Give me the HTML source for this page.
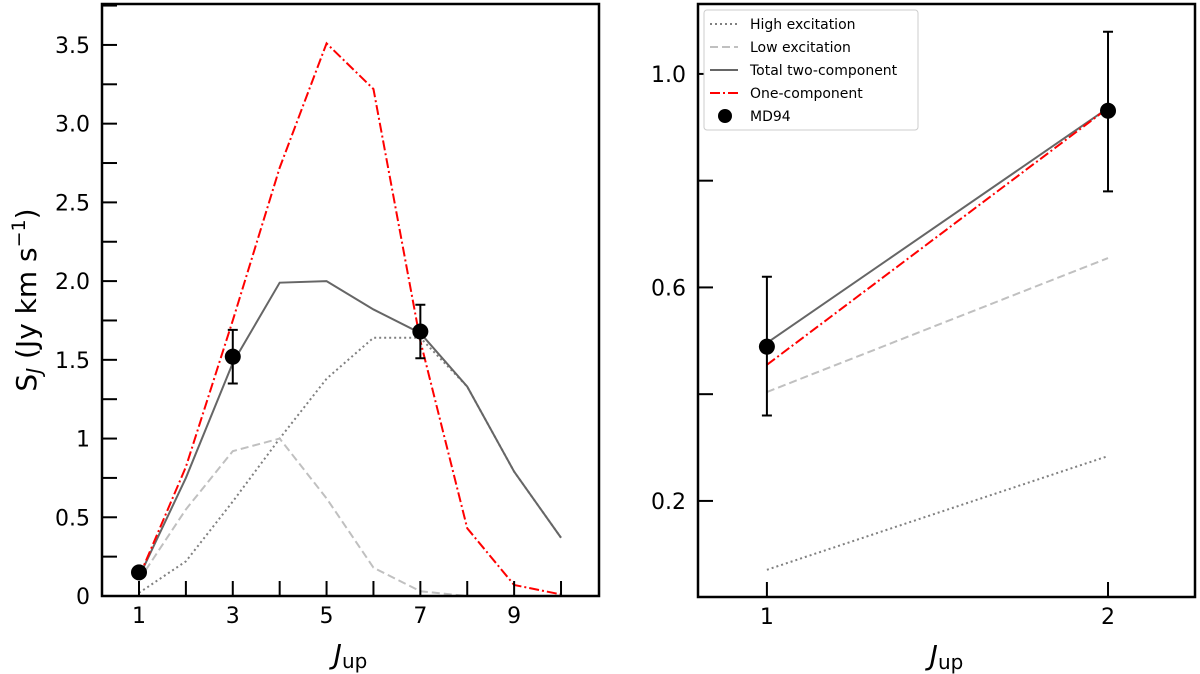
<!DOCTYPE html>
<html><head><meta charset="utf-8"><style>
html,body{margin:0;padding:0;background:#fff;}
svg{display:block;font-family:"DejaVu Sans","Liberation Sans",sans-serif;}
</style></head><body>
<svg id="chart" width="1200" height="674" viewBox="0 0 1200 674"></svg>
<script>
// Left panel data
const leftJ = [1,2,3,4,5,6,7,8,9,10];
const leftHigh = [0.02,0.22,0.6,1.0,1.38,1.64,1.64,1.33,0.79,0.37];
const leftLow = [0.1,0.55,0.92,1.0,0.62,0.18,0.03,0.0,0.0,0.0];
const leftTotal = [0.12,0.75,1.48,1.99,2.0,1.82,1.67,1.33,0.79,0.37];
const leftOne = [0.12,0.82,1.75,2.72,3.51,3.22,1.62,0.43,0.07,0.01];
const leftObsJ = [1,3,7];
const leftObs = [0.15,1.52,1.68];
const leftObsErr = [0,0.17,0.17];
const leftYTicks = [0,0.5,1,1.5,2,2.5,3,3.5];
const leftYLabels = ["0","0.5","1","1.5","2.0","2.5","3.0","3.5"];
const leftXLabels = [1,3,5,7,9];
// Right panel data
const rightJ = [1,2];
const rightHigh = [0.071,0.284];
const rightLow = [0.404,0.655];
const rightTotal = [0.496,0.936];
const rightOne = [0.455,0.936];
const rightObs = [0.489,0.931];
const rightObsLo = [0.36,0.78];
const rightObsHi = [0.62,1.079];
const rightYTicks = [0.2,0.4,0.6,0.8,1.0];
const rightYLabels = ["0.2","","0.6","","1.0"];

const svg = document.getElementById('chart');
const NS = 'http://www.w3.org/2000/svg';
function mk(tag, attrs, parent){const e=document.createElementNS(NS,tag);for(const k in attrs)e.setAttribute(k,attrs[k]);(parent||svg).appendChild(e);return e;}

function panel(p){
  const g = mk('g',{});
  
  
  const sx=v=>p.x0+(v-p.xmin)/(p.xmax-p.xmin)*(p.x1-p.x0);
  const sy=v=>p.y1-(v-p.ymin)/(p.ymax-p.ymin)*(p.y1-p.y0);
  const line=(xs,ys,style,name)=>{
    const pl=mk('polyline',Object.assign({points:xs.map((x,i)=>sx(x)+','+sy(ys[i])).join(' '),fill:'none'},style),g);
    
    
  };
  line(p.J,p.high,{stroke:'#808080','stroke-width':2,'stroke-dasharray':'2,3'},'high-excitation-line');
  line(p.J,p.low,{stroke:'#c0c0c0','stroke-width':2,'stroke-dasharray':'8,4'},'low-excitation-line');
  line(p.J,p.total,{stroke:'#666','stroke-width':2},'total-two-component-line');
  line(p.J,p.one,{stroke:'#ff0000','stroke-width':2,'stroke-dasharray':'10,3,2,3'},'one-component-line');
  p.obsJ.forEach((j,i)=>{
    const x=sx(j);
    if(p.lo[i]!==p.hi[i]){
      const eb=mk('path',{d:`M${x},${sy(p.lo[i])}V${sy(p.hi[i])}M${x-5},${sy(p.lo[i])}h10M${x-5},${sy(p.hi[i])}h10`,stroke:'#000','stroke-width':2,fill:'none'},g);
      
      
    }
    const c=mk('circle',{cx:x,cy:sy(p.obs[i]),r:8,fill:'#000'},g);
    
    
  });
  const fr=mk('rect',{x:p.x0,y:p.y0,width:p.x1-p.x0,height:p.y1-p.y0,fill:'none',stroke:'#000','stroke-width':2.5},g);
  
  
  p.yticks.forEach((v,i)=>{
    const y=sy(v);
    mk('line',{x1:p.x0,x2:p.x0+15,y1:y,y2:y,stroke:'#000','stroke-width':2},g);
    if(p.ylabels[i]){const t=mk('text',{x:p.x0-12,y:y+8,'text-anchor':'end','font-size':22,fill:'#000'},g);t.textContent=p.ylabels[i];
      
      }
  });
  (p.yminor||[]).forEach(v=>{const y=sy(v);mk('line',{x1:p.x0,x2:p.x0+15,y1:y,y2:y,stroke:'#000','stroke-width':2},g);});
  p.xticks.forEach(v=>{const x=sx(v);mk('line',{x1:x,x2:x,y1:p.y1,y2:p.y1-15,stroke:'#000','stroke-width':2},g);});
  p.xlabels.forEach(v=>{const t=mk('text',{x:sx(v),y:p.y1+27,'text-anchor':'middle','font-size':22,fill:'#000'},g);t.textContent=v;
    
    });
  const xt=mk('text',{x:(p.x0+p.x1)/2,y:p.y1+68,'text-anchor':'middle','font-size':28,fill:'#000'},g);
  xt.innerHTML='<tspan font-style="italic">J</tspan><tspan font-size="20" dy="4">up</tspan>';
  
  
  return g;
}

const leftMinor=[];for(let v=0.25;v<3.76;v+=0.5)leftMinor.push(v);
panel({name:'left-panel',x0:102,x1:599,y0:4,y1:596,xmin:0.211,xmax:10.81,ymin:0,ymax:3.76,
  J:leftJ,high:leftHigh,low:leftLow,total:leftTotal,one:leftOne,obsJ:leftObsJ,obs:leftObs,
  lo:leftObs.map((v,i)=>v-leftObsErr[i]),hi:leftObs.map((v,i)=>v+leftObsErr[i]),
  yticks:leftYTicks,ylabels:leftYLabels,yminor:leftMinor,xticks:leftJ,xlabels:leftXLabels});
panel({name:'right-panel',x0:698,x1:1195,y0:4,y1:597,xmin:0.798,xmax:2.255,ymin:0.02,ymax:1.131,
  J:rightJ,high:rightHigh,low:rightLow,total:rightTotal,one:rightOne,obsJ:rightJ,obs:rightObs,
  lo:rightObsLo,hi:rightObsHi,yticks:rightYTicks,ylabels:rightYLabels,xticks:rightJ,xlabels:rightJ});

const yt=mk('text',{x:0,y:0,'text-anchor':'middle','font-size':28,fill:'#000',transform:'translate(36,300) rotate(-90)'});
yt.innerHTML='S<tspan font-size="20" dy="5" font-style="italic">J</tspan><tspan dy="-5"> (Jy km s</tspan><tspan font-size="19" dy="-11">−1</tspan><tspan dy="11">)</tspan>';



const lg=mk('g',{});


mk('rect',{x:704,y:10,width:214,height:120,rx:3,fill:'#fff',stroke:'#ccc','stroke-width':1},lg);
const items=[['High excitation',{stroke:'#808080','stroke-dasharray':'2,3'}],['Low excitation',{stroke:'#c0c0c0','stroke-dasharray':'8,4'}],['Total two-component',{stroke:'#666'}],['One-component',{stroke:'#ff0000','stroke-dasharray':'10,3,2,3'}],['MD94',null]];
items.forEach((it,i)=>{
  const y=24+i*23;
  const e=mk('g',{},lg);
  
  
  if(it[1])mk('line',Object.assign({x1:710,x2:738,y1:y,y2:y,'stroke-width':2},it[1]),e);
  else mk('circle',{cx:725,cy:y,r:7,fill:'#000'},e);
  const t=mk('text',{x:750,y:y+5,'font-size':14,fill:'#000'},e);t.textContent=it[0];
});
</script>
</body></html>
